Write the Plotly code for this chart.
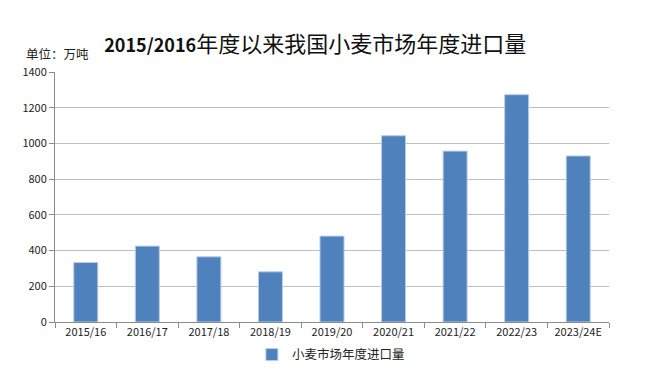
import plotly.graph_objects as go

categories = ["2015/16", "2016/17", "2017/18", "2018/19", "2019/20",
              "2020/21", "2021/22", "2022/23", "2023/24E"]
imports_10k_t = [333, 425, 365, 281, 481, 1043, 957, 1273, 930]
series_name = "小麦市场年度进口量"
title_text = "<b><span style=\"font-size:18px\">2015/2016</span></b>年度以来我国小麦市场年度进口量"
unit_text = "单位：万吨"

FONT = "Noto Sans CJK SC"

fig = go.Figure()
fig.add_trace(go.Bar(
    x=categories, y=imports_10k_t, name=series_name,
    marker=dict(color="#4F81BD", line=dict(color="#B9CDE5", width=1)),
    width=0.39,
))

fig.update_layout(
    width=665, height=376,
    margin=dict(l=55, r=56, t=72, b=54, autoexpand=False),
    paper_bgcolor="white", plot_bgcolor="white",
    font=dict(family=FONT, size=11, color="#222222"),
    title=dict(text=title_text, x=0.474, xanchor="center", y=0.883, yanchor="middle",
               font=dict(family=FONT, size=22, color="#111111")),
    showlegend=True,
    legend=dict(orientation="h", x=0.498, xanchor="center",
                yref="container", y=0.056, yanchor="middle",
                font=dict(family=FONT, size=12.5, color="#222222"),
                itemwidth=30),
    bargap=0.6,
    annotations=[dict(text=unit_text, xref="paper", yref="paper", x=-0.056, y=1.072,
                      xanchor="left", yanchor="middle", showarrow=False,
                      font=dict(family=FONT, size=12.5, color="#222222"))],
)
fig.update_xaxes(
    showline=True, linecolor="#8C8C8C", linewidth=1,
    ticks="outside", ticklen=5, tickcolor="#8C8C8C", tickson="boundaries",
    showgrid=False, tickfont=dict(size=11),
)
fig.update_yaxes(
    range=[0, 1400], dtick=200, tick0=0,
    showline=True, linecolor="#8C8C8C", linewidth=1,
    ticks="outside", ticklen=5, tickcolor="#8C8C8C",
    showgrid=True, gridcolor="#BFBFBF", gridwidth=1,
    zeroline=False, tickfont=dict(size=11),
)

fig.write_html("out.html", config={"displayModeBar": False},
               post_script="document.body.style.margin='0';")
